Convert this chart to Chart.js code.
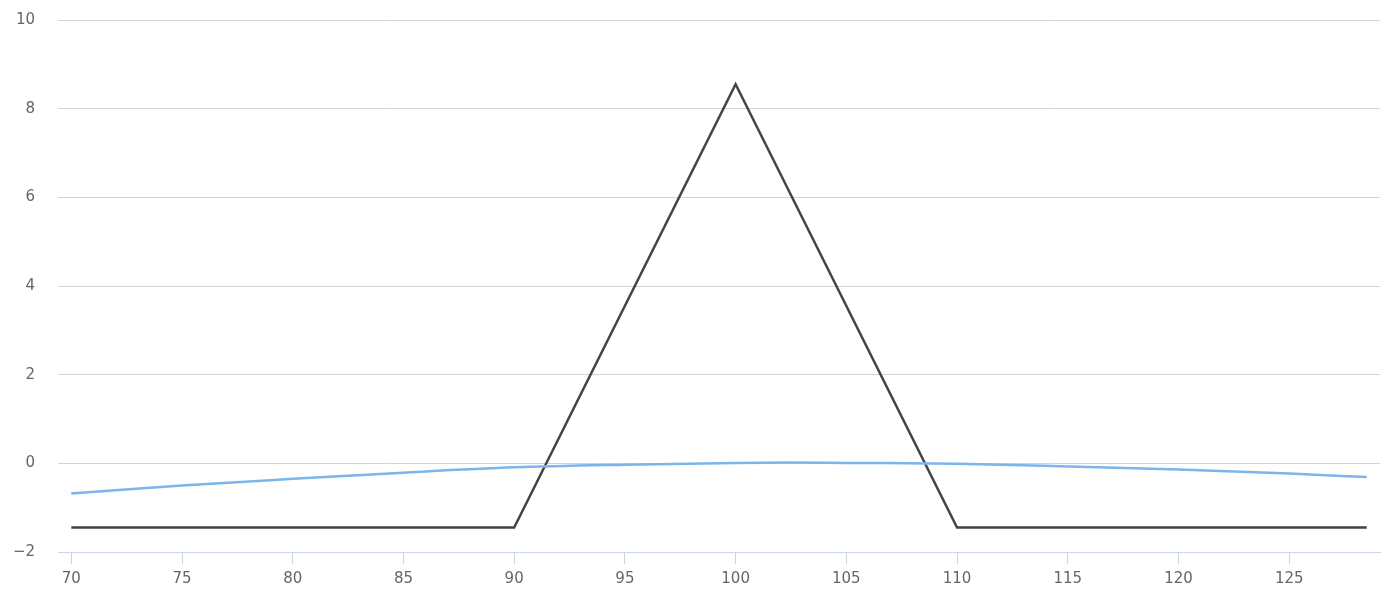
<!DOCTYPE html>
<html>
<head>
<meta charset="utf-8">
<script src="https://cdn.jsdelivr.net/npm/chart.js@4/dist/chart.umd.min.js"></script>
<style>
  html, body { margin: 0; padding: 0; background: #fff; }
  #wrap { width: 1396px; height: 604px; }
</style>
</head>
<body>
<div id="wrap"><canvas id="grafico"></canvas></div>
<script>
// preço do ativo no vencimento e P&L
var precos = [70, 90, 100, 110, 128.5];
var payoff = [-1.45, -1.45, 8.55, -1.45, -1.45];

// P&L de hoje (curva azul)
var precosHoje = [70, 75, 80, 85, 90, 95, 100, 102.5, 105, 110, 115, 120, 125, 128.5];
var plHoje = [-0.68, -0.5, -0.35, -0.21, -0.09, -0.03, 0.01, 0.02, 0.01, -0.01, -0.07, -0.14, -0.23, -0.31];

var ticksX = [70, 75, 80, 85, 90, 95, 100, 105, 110, 115, 120, 125];
var ticksY = [-2, 0, 2, 4, 6, 8, 10];

function pontos(xs, ys) {
    var out = [];
    for (var i = 0; i < xs.length; i++) {
        out.push({ x: xs[i], y: ys[i] });
    }
    return out;
}

var fonte = { family: "DejaVu Sans", size: 15 };

new Chart(document.getElementById("grafico"), {
    type: "line",
    data: {
        datasets: [{
            label: "Hoje",
            data: pontos(precosHoje, plHoje),
            borderColor: "#7cb5ec",
            borderWidth: 2.5,
            pointRadius: 0,
            tension: 0.4,
            cubicInterpolationMode: "monotone"
        }, {
            label: "Vencimento",
            data: pontos(precos, payoff),
            borderColor: "#434348",
            borderWidth: 2.5,
            pointRadius: 0,
            tension: 0
        }]
    },
    options: {
        responsive: true,
        maintainAspectRatio: false,
        animation: false,
        layout: { padding: { top: 20, right: 16, left: 0, bottom: 0 } },
        plugins: {
            legend: { display: false },
            tooltip: { enabled: false }
        },
        scales: {
            x: {
                type: "linear",
                min: 69.4,
                max: 129.1,
                afterBuildTicks: function (scale) {
                    scale.ticks = ticksX.map(function (v) { return { value: v }; });
                },
                afterFit: function (scale) { scale.height = 52; },
                grid: {
                    drawOnChartArea: false,
                    drawTicks: true,
                    tickLength: 12,
                    color: "#ccd6eb"
                },
                border: { color: "#ccd6eb", width: 1 },
                ticks: {
                    color: "#666666",
                    font: fonte,
                    padding: 6,
                    maxRotation: 0,
                    autoSkip: false
                }
            },
            y: {
                min: -2,
                max: 10,
                afterBuildTicks: function (scale) {
                    scale.ticks = ticksY.map(function (v) { return { value: v }; });
                },
                afterFit: function (scale) {
                    scale.width = 58;
                    scale.paddingTop = 0;
                    scale.paddingBottom = 0;
                },
                grid: {
                    color: "#d3d3d3",
                    drawTicks: false
                },
                border: { display: false },
                ticks: {
                    color: "#666666",
                    font: fonte,
                    padding: 23,
                    callback: function (v) { return String(v).replace("-", "\u2212"); }
                }
            }
        }
    }
});
</script>
</body>
</html>
